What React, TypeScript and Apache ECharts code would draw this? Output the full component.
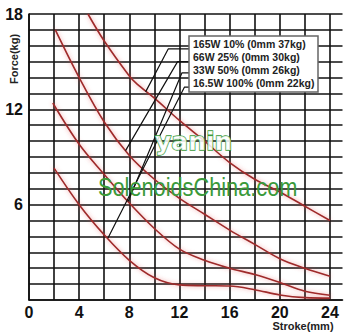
import React, { useEffect, useRef } from "react";
import * as echarts from "echarts";

// Stroke (mm) / force (kg) readings per duty rating
const x165W = [4.7, 6, 8, 8.6, 10, 12, 14, 16, 18, 20, 22, 24];
const y165W = [18, 16.3, 14.1, 13.6, 12.7, 11.3, 10.0, 8.65, 7.6, 6.8, 5.9, 5.0];

const x66W = [2.1, 4, 6, 8, 10, 12, 14, 16, 18, 20, 22, 24];
const y66W = [17.0, 14.0, 11.2, 9.1, 7.6, 6.4, 5.4, 4.4, 3.5, 2.6, 2.0, 1.5];

const x33W = [1.9, 4, 6, 8, 10, 12, 14, 16, 18, 20, 22, 24];
const y33W = [12.4, 9.8, 7.9, 6.1, 4.5, 3.2, 2.5, 2.0, 1.6, 1.1, 0.55, 0.3];

const x16W = [2, 4, 6, 8, 10, 12, 14, 16, 18, 20, 22, 24];
const y16W = [8.3, 6.0, 4.1, 2.5, 1.4, 0.95, 0.9, 0.88, 0.65, 0.32, 0.15, 0.12];

const legendLabels = [
  "165W 10% (0mm 37kg)",
  "66W 25% (0mm 30kg)",
  "33W 50% (0mm 26kg)",
  "16.5W 100% (0mm 22kg)",
];

// leader lines: box edge -> knee -> point on curve (data coords)
const leader165 = [[12.8, 15.8], [11.1, 15.8], [9.3, 13.1]];
const leader66 = [[12.8, 15.0], [11.85, 15.0], [7.7, 9.4]];
const leader33 = [[12.8, 14.3], [12.2, 14.3], [7.9, 6.2]];
const leader16 = [[12.8, 13.4], [12.4, 13.4], [6.3, 3.9]];

const yTickLabels = [6, 12, 18];
const xTickLabels = [0, 4, 8, 12, 16, 20, 24];

const zip = (xs: number[], ys: number[]) => xs.map((x, i) => [x, ys[i]]);

export default function App() {
  const ref = useRef<HTMLDivElement>(null);
  useEffect(() => {
    if (!ref.current) return;
    const chart = echarts.init(ref.current, null, { renderer: "svg" });
    const curveStyle = {
      color: "#9e2a2a",
      width: 1.6,
      shadowBlur: 4,
      shadowColor: "rgba(225,70,70,0.55)",
    };
    const curve = (name: string, xs: number[], ys: number[]) => ({
      name,
      type: "line",
      data: zip(xs, ys),
      smooth: 0.35,
      showSymbol: false,
      lineStyle: curveStyle,
      z: 3,
    });
    const leader = (pts: number[][]) => ({
      type: "line",
      data: pts,
      showSymbol: false,
      lineStyle: { color: "#111", width: 1.2 },
      z: 4,
      silent: true,
    });
    const font = "'Liberation Sans', Arial, sans-serif";
    chart.setOption({
      animation: false,
      backgroundColor: "#fff",
      grid: { left: 29, top: 14, right: 7.5, bottom: 33, containLabel: false },
      xAxis: {
        type: "value",
        min: 0,
        max: 25,
        interval: 2,
        axisLine: { show: true, lineStyle: { color: "#111", width: 1.6 } },
        axisTick: { show: false },
        splitLine: { show: true, showMaxLine: false, lineStyle: { color: "#111", width: 1.6 } },
        axisLabel: {
          showMaxLabel: false,
          margin: 4,
          color: "#111",
          fontSize: 16,
          fontWeight: "bold",
          fontFamily: font,
          formatter: (v: number) => (xTickLabels.includes(v) ? String(v) : ""),
        },
      },
      yAxis: {
        type: "value",
        min: 0,
        max: 18,
        interval: 1,
        axisLine: { show: true, lineStyle: { color: "#111", width: 1.6 } },
        axisTick: { show: false },
        splitLine: { show: true, lineStyle: { color: "#111", width: 1.6 } },
        axisLabel: {
          margin: 6,
          color: "#111",
          fontSize: 16,
          fontWeight: "bold",
          fontFamily: font,
          formatter: (v: number) => (yTickLabels.includes(v) ? String(v) : ""),
        },
      },
      series: [
        curve(legendLabels[0], x165W, y165W),
        curve(legendLabels[1], x66W, y66W),
        curve(legendLabels[2], x33W, y33W),
        curve(legendLabels[3], x16W, y16W),
        leader(leader165),
        leader(leader66),
        leader(leader33),
        leader(leader16),
      ],
      graphic: [
        {
          type: "text",
          x: 14,
          y: 59,
          rotation: Math.PI / 2,
          style: {
            text: "Force(kg)",
            fontSize: 11,
            fontWeight: "bold",
            fontFamily: font,
            fill: "#222",
            align: "center",
            verticalAlign: "middle",
          },
        },
        {
          type: "text",
          x: 303,
          y: 326,
          style: {
            text: "Stroke(mm)",
            fontSize: 11,
            fontWeight: "bold",
            fontFamily: font,
            fill: "#222",
            align: "center",
            verticalAlign: "middle",
          },
        },
        {
          type: "text",
          x: 155,
          y: 141,
          z: 10,
          style: {
            text: "yanin",
            fontSize: 25,
            fontWeight: "bold",
            fontFamily: "'DejaVu Sans', sans-serif",
            fill: "rgba(255,255,255,0.85)",
            stroke: "#3a9a3a",
            lineWidth: 1.3,
            align: "left",
            verticalAlign: "middle",
          },
        },
        {
          type: "text",
          x: 98,
          y: 187,
          scaleX: 0.87,
          z: 10,
          style: {
            text: "SolenoidsChina.com",
            fontSize: 25,
            fontFamily: font,
            fill: "#3a9a3a",
            align: "left",
            verticalAlign: "middle",
          },
        },
        {
          type: "rect",
          z: 20,
          shape: { x: 189, y: 36, width: 129, height: 56 },
          style: { fill: "#fff", stroke: "#666", lineWidth: 1.5 },
        },
        ...legendLabels.map((t, i) => ({
          type: "text",
          z: 21,
          x: 193,
          y: 44 + i * 13,
          style: {
            text: t,
            fontSize: 10.5,
            fontWeight: "bold",
            fontFamily: font,
            fill: "#222",
            align: "left",
            verticalAlign: "middle",
          },
        })),
      ],
    });
    return () => chart.dispose();
  }, []);
  return (
    <div
      ref={ref}
      style={{ position: "fixed", left: 0, top: 0, width: 350, height: 333, background: "#fff" }}
    />
  );
}
